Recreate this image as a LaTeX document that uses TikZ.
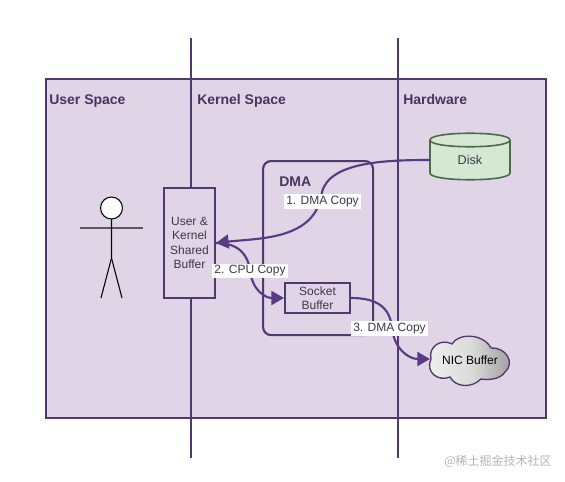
\documentclass[tikz,border=0pt]{standalone}
\usepackage{fontspec}
\setmainfont{Liberation Sans}
\newfontfamily\cjkwm{Noto Sans CJK SC}
\usetikzlibrary{arrows.meta,shapes.geometric,shapes.symbols,shadings}
\definecolor{spacebg}{HTML}{E0D5E7}
\definecolor{boxline}{HTML}{4F3A6B}
\definecolor{arrowc}{HTML}{5A3A85}
\definecolor{titlec}{HTML}{47355F}
\definecolor{labelc}{HTML}{3A3A44}
\definecolor{diskfill}{HTML}{D5E8D4}
\definecolor{diskline}{HTML}{4C6B4A}
\definecolor{wm}{HTML}{B5B5B5}
\tikzset{
  x=0.75pt,y=-0.75pt,
  spaceline/.style={draw=boxline,line width=1.6pt},
  titletext/.style={font=\bfseries\fontsize{10.5}{12}\selectfont,text=titlec,inner sep=0pt,anchor=base west},
  boxtext/.style={font=\fontsize{9}{10.7}\selectfont,text=labelc,align=center,inner sep=0pt},
  bufbox/.style={draw=boxline,line width=1.5pt,fill=spacebg,boxtext,minimum width=38.25pt,anchor=center},
  flow/.style={draw=arrowc,line width=1.6pt},
  flowtip/.style={-{Triangle[length=9.5pt,width=10.5pt,fill=arrowc]}},
  edgelabel/.style={fill=white,font=\fontsize{9}{11}\selectfont,text=labelc,inner sep=1.5pt},
  stick/.style={draw=black,line width=0.8pt},
}
\begin{document}
\begin{tikzpicture}
\useasboundingbox (0,0) rectangle (565,482);
\fill[white] (0,0) rectangle (565,482);
\node[spaceline,fill=spacebg,minimum width=375pt,minimum height=254.25pt,inner sep=0pt,anchor=north west] (space) at (44.5,78) {};
\coordinate (ktop) at (191,38);
\coordinate (kbot) at (191,458);
\coordinate (htop) at (398,38);
\coordinate (hbot) at (398,458);
\draw[boxline,line width=1.3pt] (ktop) -- (kbot);
\draw[boxline,line width=1.3pt] (htop) -- (hbot);
\node[titletext] (userlbl) at (49,104) {User Space};
\node[titletext] (kernlbl) at (197,104) {Kernel Space};
\node[titletext] (hardlbl) at (403,104) {Hardware};
\node[draw=boxline,line width=1.6pt,rounded corners=6pt,minimum width=82.5pt,minimum height=130.5pt,inner sep=0pt,anchor=north west] (dma) at (262,160) {};
\node[titletext] (dmalbl) at (279,186) {DMA};
\node[bufbox,minimum height=82.5pt] (shared) at (189.5,243) {User \&\\Kernel\\Shared\\Buffer};
\node[bufbox,minimum width=48.75pt,minimum height=22.5pt] (socket) at (317.5,298) {Socket\\Buffer};
% disk
\draw[diskline,fill=diskfill,line width=1.2pt] (430,140) -- (430,173) .. controls (430,182) and (510,182) .. (510,173) -- (510,140) .. controls (510,131) and (430,131) .. (430,140) -- cycle;
\draw[diskline,line width=1.2pt] (430,140) .. controls (430,149) and (510,149) .. (510,140);
\node[minimum width=60pt,minimum height=33.75pt,boxtext,font=\fontsize{9.5}{11}\selectfont] (disk) at (470,160) {Disk};
% cloud
\coordinate (cloudw) at (430,359);
\draw[draw=boxline,line width=1pt,left color=black!6,right color=black!40,middle color=black!14]
 (431,359) .. controls (428,347) and (441,338) .. (452,344)
 .. controls (458,333) and (483,333) .. (491,348)
 .. controls (505,347) and (516,362) .. (505,372)
 .. controls (500,380) and (487,380) .. (481,379)
 .. controls (472,388) and (456,388) .. (450,377)
 .. controls (438,382) and (425,372) .. (431,359) -- cycle;
\node[font=\fontsize{9}{11}\selectfont,text=black,inner sep=0pt] (nic) at (470,360) {NIC Buffer};
% flows
\draw[flow,flowtip] (disk.west) .. controls (385,160) and (330,162) .. (322,192) .. controls (316,240) and (260,238) .. (shared.east |- 0,243);
\draw[flow,flowtip] (shared.east |- 0,243) .. controls (240,243) and (248,256) .. (250,270) .. controls (252,290) and (265,298) .. (socket.west);
\draw[flow,flowtip] (socket.east) .. controls (378,298) and (390,308) .. (392,328) .. controls (394,348) and (408,359) .. (cloudw);
\node[edgelabel] (l1) at (322.5,201.5) {1. DMA Copy};
\node[edgelabel] (l2) at (250,271) {2. CPU Copy};
\node[edgelabel] (l3) at (389.5,328.5) {3. DMA Copy};
% person
\coordinate (hip) at (111.5,258);
\coordinate (neck) at (111.5,219);
\coordinate (larm) at (80,228);
\coordinate (rarm) at (143,228);
\coordinate (lfoot) at (101,298);
\coordinate (rfoot) at (122,298);
\draw[stick,draw=black!65,line width=1pt] (larm) -- (rarm);
\draw[stick] (neck) -- (hip) -- (lfoot);
\draw[stick] (hip) -- (rfoot);
\node[circle,draw=black,fill=white,line width=0.8pt,minimum size=16.5pt,inner sep=0pt] (head) at (111.5,208) {};
\node[font=\cjkwm\fontsize{9}{11}\selectfont,text=wm,inner sep=0pt,anchor=east] (mark) at (552,461) {@稀土掘金技术社区};
\end{tikzpicture}
\end{document}
